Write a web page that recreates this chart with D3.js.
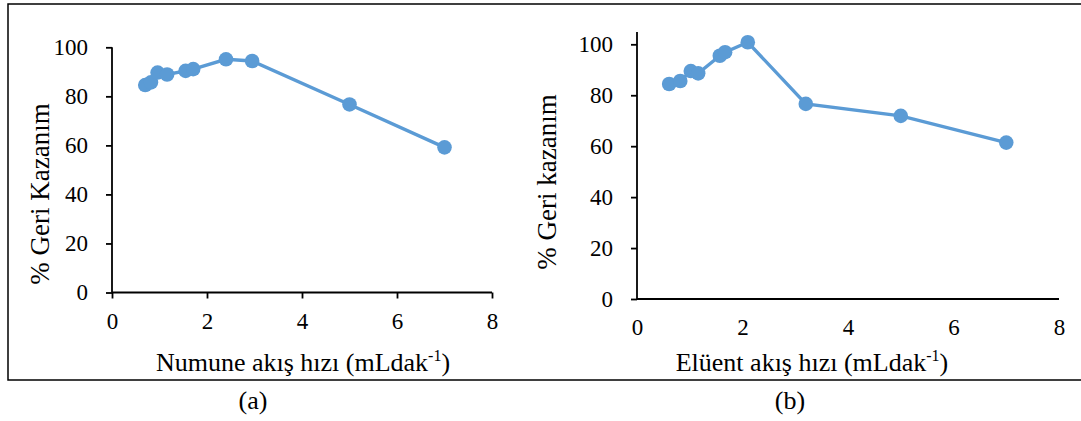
<!DOCTYPE html>
<html><head><meta charset="utf-8">
<script src="https://cdn.jsdelivr.net/npm/d3@7"></script>
<style>
body{margin:0;background:#fff;}
svg text{font-family:"Liberation Serif","Times New Roman",serif !important;fill:#000;}
</style></head>
<body><svg id="c" width="1081" height="421"></svg>
<script>
// Data
const aFlow = [0.7, 0.82, 0.96, 1.16, 1.55, 1.71, 2.4, 2.95, 5.0, 7.0];
const aRec  = [84.6, 85.7, 89.7, 88.9, 90.4, 91.1, 95.1, 94.4, 76.7, 59.2];
const bFlow = [0.61, 0.82, 1.02, 1.16, 1.57, 1.67, 2.1, 3.2, 5.0, 7.0];
const bRec  = [84.4, 85.6, 89.5, 88.6, 95.5, 96.9, 100.8, 76.6, 71.9, 61.4];
const xTicks = [0, 2, 4, 6, 8];
const yTicks = [0, 20, 40, 60, 80, 100];
const xTitleA = "Numune akış hızı (mLdak";
const xTitleB = "Elüent akış hızı (mLdak";
const yTitleA = "% Geri Kazanım";
const yTitleB = "% Geri kazanım";
const panelLabels = ["(a)", "(b)"];

const svg = d3.select("#c");
const blue = "#5B9BD5";

svg.append("rect").attr("x", 8).attr("y", 4).attr("width", 1090).attr("height", 376)
  .attr("fill", "none").attr("stroke", "#000").attr("stroke-width", 1.5);

function panel(cfg) {
  const x = d3.scaleLinear().domain([0, 8]).range([cfg.x0, cfg.x1]);
  const y = d3.scaleLinear().domain([0, 100]).range([cfg.y0, cfg.y1]);
  const g = svg.append("g");
  // y axis
  const ya = g.append("g").attr("transform", `translate(${cfg.x0},0)`)
    .call(d3.axisLeft(y).tickValues(yTicks).tickSize(6).tickSizeOuter(0).tickPadding(18));
  ya.select(".domain").attr("d", `M0,${cfg.y0}V${cfg.yTop}`);
  // x axis
  const xa = g.append("g").attr("transform", `translate(0,${cfg.y0})`)
    .call(d3.axisBottom(x).tickValues(xTicks).tickSize(cfg.xTick).tickSizeOuter(0).tickPadding(cfg.xTick ? 14 : 20));
  xa.select(".domain").attr("d", `M${cfg.x0},0H${cfg.x1}`);
  g.selectAll(".domain, .tick line").attr("stroke", "#000").attr("stroke-width", 1.8);
  g.selectAll(".tick text").attr("font-size", 23);
  // line
  const pts = cfg.xs.map((v, i) => [v, cfg.ys[i]]);
  g.append("path").datum(pts)
    .attr("d", d3.line().x(d => x(d[0])).y(d => y(d[1])))
    .attr("fill", "none").attr("stroke", blue).attr("stroke-width", 3.4);
  g.selectAll("circle").data(pts).join("circle")
    .attr("cx", d => x(d[0])).attr("cy", d => y(d[1])).attr("r", 7.3).attr("fill", blue);
  // x title
  const t = g.append("text").attr("x", cfg.xtx).attr("y", 371).attr("text-anchor", "middle")
    .attr("font-size", 26);
  t.append("tspan").text(cfg.xt);
  t.append("tspan").attr("dy", -10).attr("font-size", 16).text("-1");
  t.append("tspan").attr("dy", 10).text(")");
  // y title
  g.append("text").attr("transform", `translate(${cfg.ytx},${cfg.yty}) rotate(-90)`)
    .attr("text-anchor", "middle").attr("font-size", 27).text(cfg.yt);
  // panel label
  g.append("text").attr("x", cfg.plx).attr("y", 409).attr("text-anchor", "middle")
    .attr("font-size", 26).text(cfg.pl);
}

panel({x0: 112, x1: 492, y0: 292.5, y1: 47.3, yTop: 47.3, xTick: 6,
  xs: aFlow, ys: aRec, xt: xTitleA, yt: yTitleA, xtx: 303, ytx: 49, yty: 194, plx: 253, pl: panelLabels[0]});
panel({x0: 637, x1: 1059, y0: 299, y1: 44.3, yTop: 32, xTick: 0,
  xs: bFlow, ys: bRec, xt: xTitleB, yt: yTitleB, xtx: 812, ytx: 556, yty: 182, plx: 790, pl: panelLabels[1]});
</script></body></html>
